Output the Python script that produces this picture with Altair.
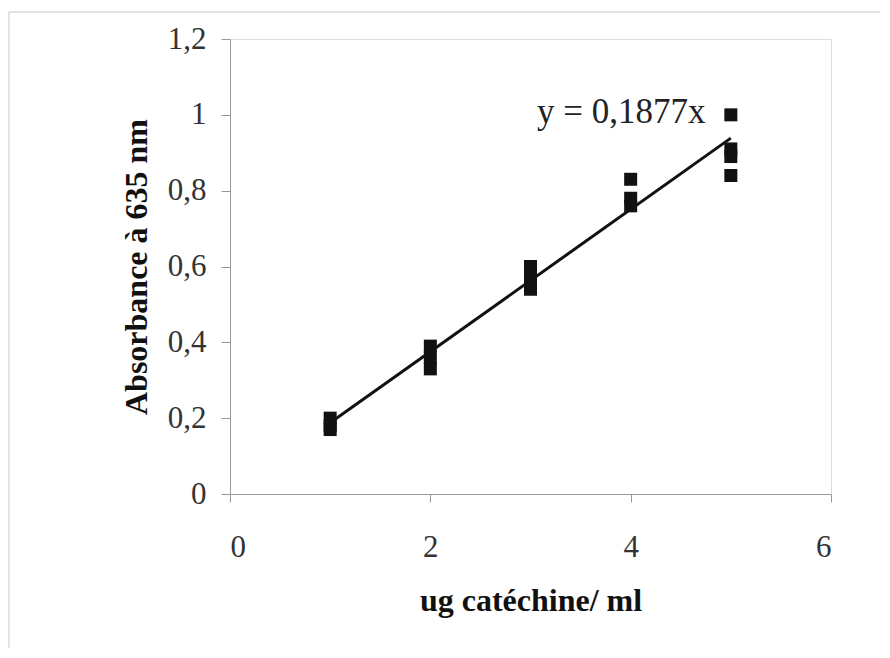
import altair as alt
import pandas as pd

# measured data (ug catéchine/ml vs absorbance at 635 nm)
conc = [1, 1, 1, 2, 2, 2, 3, 3, 3, 4, 4, 4, 5, 5, 5, 5]
absorb = [0.17, 0.18, 0.20, 0.33, 0.36, 0.39, 0.54, 0.57, 0.60,
          0.76, 0.78, 0.83, 0.84, 0.89, 0.91, 1.00]

# trend line y = 0.1877x drawn over the data range
slope = 0.1877
trend_x = [1, 5]
equation = "y = 0,1877x"

x_ticks = [0, 2, 4, 6]
y_ticks = [0, 0.2, 0.4, 0.6, 0.8, 1.0, 1.2]

pts = pd.DataFrame({"x": conc, "y": absorb})
trend = pd.DataFrame({"x": trend_x, "y": [slope * v for v in trend_x]})
eq = pd.DataFrame({"t": [equation]})

FONT = "Liberation Serif"
x_scale = alt.Scale(domain=[0, 6], nice=False, zero=False)
y_scale = alt.Scale(domain=[0, 1.2], nice=False)

x_axis = alt.Axis(
    values=x_ticks, title="ug catéchine/ ml", grid=False,
    labelExpr="replace(format(datum.value, ''), '.', ',')",
    labelFont=FONT, labelFontSize=31, labelColor="#333333",
    labelPadding=30, tickSize=8, tickColor="#999999",
    domainColor="#999999", domainWidth=1,
    titleFont=FONT, titleFontSize=32, titleFontWeight="bold",
    titleColor="#111111", titlePadding=23,
)
y_axis = alt.Axis(
    values=y_ticks, title="Absorbance à 635 nm", grid=False,
    labelExpr="replace(format(datum.value, ''), '.', ',')",
    labelFont=FONT, labelFontSize=31, labelColor="#333333",
    labelPadding=15, tickSize=9, tickColor="#999999",
    domainColor="#999999", domainWidth=1,
    titleFont=FONT, titleFontSize=32, titleFontWeight="bold",
    titleColor="#111111", titlePadding=14,
)

points = alt.Chart(pts).mark_point(
    shape="square", filled=True, size=169, color="#111111", opacity=1
).encode(
    x=alt.X("x:Q", scale=x_scale, axis=x_axis),
    y=alt.Y("y:Q", scale=y_scale, axis=y_axis),
)

line = alt.Chart(trend).mark_line(color="#111111", strokeWidth=3).encode(
    x=alt.X("x:Q", scale=x_scale),
    y=alt.Y("y:Q", scale=y_scale),
)

label = alt.Chart(eq).mark_text(
    font=FONT, fontSize=35, color="#222222", align="left", baseline="middle"
).encode(
    x=alt.value(307), y=alt.value(73), text="t:N"
)

frame_top = alt.Chart(eq).mark_rule(color="#c8c8c8", strokeWidth=1).encode(
    x=alt.value(-221), x2=alt.value(650), y=alt.value(-27)
)
frame_left = alt.Chart(eq).mark_rule(color="#c8c8c8", strokeWidth=1).encode(
    x=alt.value(-221), y=alt.value(-27), y2=alt.value(609)
)

chart = alt.layer(frame_top, frame_left, line, points, label).properties(
    width=601, height=455,
    autosize=alt.AutoSizeParams(type="none"),
    padding={"left": 222, "top": 31, "right": 51, "bottom": 156},
).configure_view(stroke=None).configure(background="white")

chart.save("out.html", embed_options={"renderer": "svg", "actions": False})
